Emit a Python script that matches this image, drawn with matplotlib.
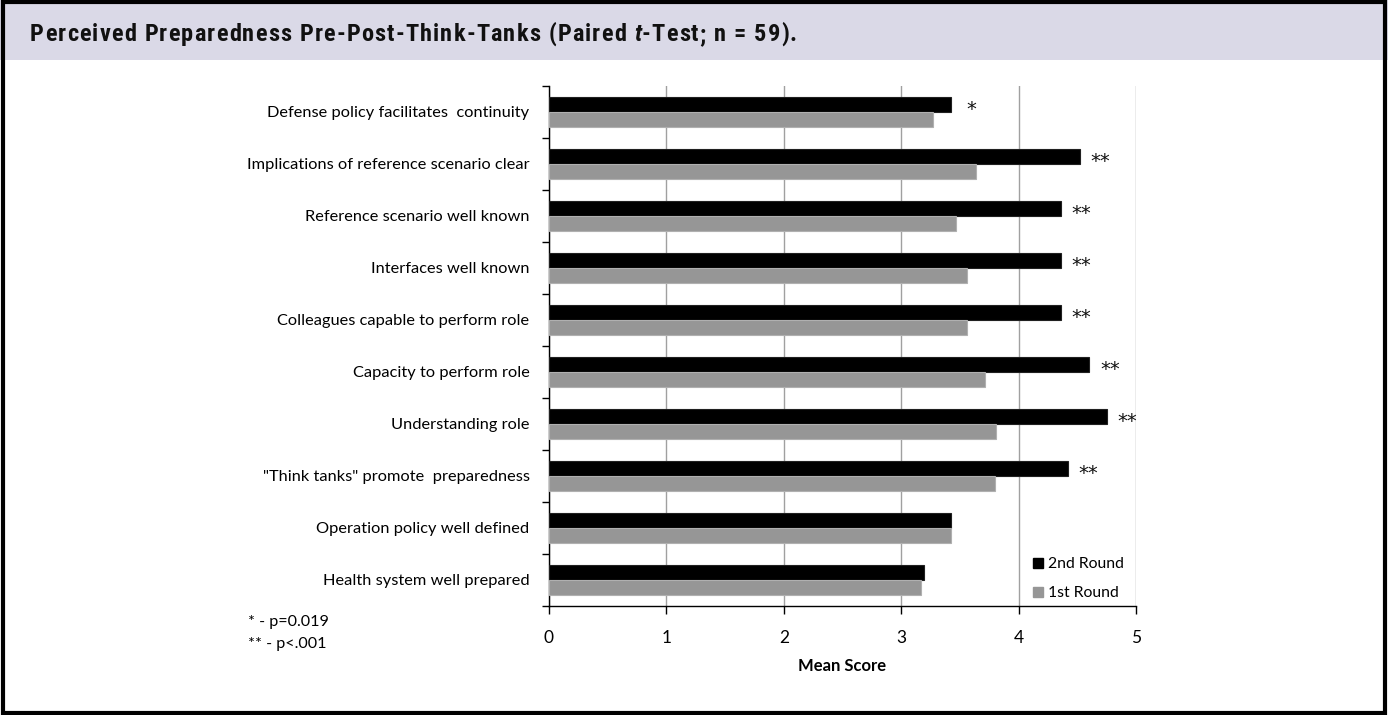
import matplotlib
matplotlib.use("Agg")
import matplotlib.pyplot as plt
from matplotlib.patches import Rectangle
from matplotlib.lines import Line2D
import numpy as np

categories = [
    "Defense policy facilitates  continuity",
    "Implications of reference scenario clear",
    "Reference scenario well known",
    "Interfaces well known",
    "Colleagues capable to perform role",
    "Capacity to perform role",
    "Understanding role",
    "\"Think tanks\" promote  preparedness",
    "Operation policy well defined",
    "Health system well prepared",
]
round2 = [3.42, 4.52, 4.36, 4.36, 4.36, 4.60, 4.75, 4.42, 3.42, 3.19]
round1 = [3.27, 3.64, 3.47, 3.56, 3.56, 3.71, 3.81, 3.80, 3.42, 3.17]
significance = ["*", "**", "**", "**", "**", "**", "**", "**", "", ""]
x_ticks = [0, 1, 2, 3, 4, 5]
footnotes = ["* - p=0.019", "** - p<.001"]
title_parts = [("Perceived Preparedness Pre-Post-Think-Tanks (Paired ", "normal"),
               ("t", "italic"),
               ("-Test; n = 59).", "normal")]

W, H = 1388, 715
fig = plt.figure(figsize=(W / 100, H / 100), dpi=100)
fig.patch.set_facecolor("white")

label_font = ["Lato", "DejaVu Sans"]
title_font = ["Roboto Condensed", "DejaVu Sans"]
title_kw = dict(fontsize=17.5, fontweight="bold", family=title_font,
                fontstretch="condensed", va="baseline", ha="left",
                color="#111111")

# header band and outer frame
fig.patches.append(Rectangle((0, 1 - 60 / H), 1, 60 / H, transform=fig.transFigure,
                             facecolor="#dad9e7", edgecolor="none", zorder=0))
fig.patches.append(Rectangle((3 / W, 2 / H), 1 - 6 / W, 1 - 4 / H,
                             transform=fig.transFigure, facecolor="none",
                             edgecolor="black", linewidth=3.0, zorder=5))

# title: set character by character (advance widths) with extra tracking
renderer = fig.canvas.get_renderer()
ty = 1 - 41 / H
x0, x_end = 30.0, 797.0
chars = [(c, st) for txt, st in title_parts for c in txt]


def text_width(s, st):
    tmp = fig.text(0, 0, s, fontstyle=st, **title_kw)
    w = tmp.get_window_extent(renderer=renderer).width
    tmp.remove()
    return w


base_w = text_width("HH", "normal")


def advance(c, st):
    return text_width("H" + c + "H", st) - base_w


widths = [advance(c, st) for c, st in chars]
track = (x_end - x0 - sum(widths)) / (len(chars) - 1)
x = x0
for (c, st), w in zip(chars, widths):
    if c != " ":
        fig.text(x / W, ty, c, fontstyle=st, **title_kw)
    x += w + track

ax = fig.add_axes([549 / W, 1 - 606 / H, (1136 - 549) / W, (606 - 86) / H])

n = len(categories)
pos = np.arange(n)
bh = 0.28
ax.barh(pos - bh / 2, round2, height=bh, color="black", edgecolor="#202020",
        linewidth=0.8, label="2nd Round", zorder=3)
ax.barh(pos + bh / 2, round1, height=bh, color="#969696", edgecolor="#b0b0b0",
        linewidth=0.8, label="1st Round", zorder=3)

for i, (v, s) in enumerate(zip(round2, significance)):
    if s:
        ax.annotate(s, xy=(v, i - bh / 2), xytext=(15, -7.5), textcoords="offset points",
                    ha="center", va="baseline", fontsize=14, family="DejaVu Sans",
                    color="#111111")

ax.set_xlim(0, 5)
ax.set_ylim(n - 0.5, -0.5)
ax.set_xticks(x_ticks)
ax.set_xticklabels([str(t) for t in x_ticks], family=label_font, fontsize=12.5)
ax.set_yticks(pos)
ax.set_yticklabels(categories, family=label_font, fontsize=11.8)
ax.set_yticks(np.arange(-0.5, n + 0.5, 1), minor=True)
ax.tick_params(axis="y", which="major", length=0, pad=14)
ax.tick_params(axis="y", which="minor", length=5, width=1, direction="out")
ax.tick_params(axis="x", length=6, width=1, direction="out", pad=11)

ax.xaxis.grid(True, color="#a0a0a0", linewidth=1, zorder=0)
ax.set_axisbelow(True)
for side in ("top", "right"):
    ax.spines[side].set_visible(False)
ax.spines["left"].set_linewidth(1)
ax.spines["bottom"].set_linewidth(1)

ax.set_xlabel("Mean Score", family=label_font, fontsize=12, fontweight="bold",
              labelpad=9)

handles = [
    Line2D([], [], marker="s", linestyle="none", markersize=7, color="black"),
    Line2D([], [], marker="s", linestyle="none", markersize=7, color="#969696"),
]
ax.legend(handles, ["2nd Round", "1st Round"], loc="lower right",
          bbox_to_anchor=(1.003, -0.016), frameon=False, handletextpad=0.05,
          handlelength=1.2, prop={"family": label_font, "size": 11.3},
          labelspacing=0.95)

fig.text(248 / W, 1 - 622 / H, footnotes[0], family=label_font, fontsize=11.6,
         va="center")
fig.text(248 / W, 1 - 644 / H, footnotes[1], family=label_font, fontsize=11.6,
         va="center")

fig.savefig("out.png", dpi=100)
